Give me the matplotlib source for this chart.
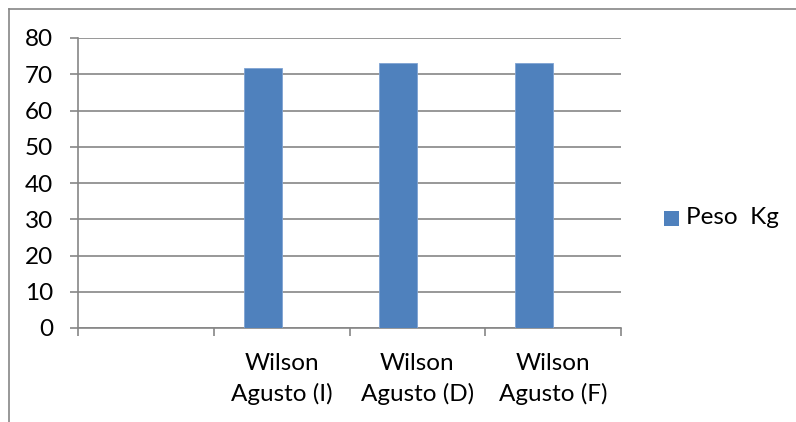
import numpy as np
import matplotlib
matplotlib.use("Agg")
import matplotlib.pyplot as plt
from matplotlib.lines import Line2D
from matplotlib.patches import Rectangle

categories = ["", "Wilson\nAgusto (I)", "Wilson\nAgusto (D)", "Wilson\nAgusto (F)"]
peso_kg = [np.nan, 71.7, 73.0, 73.0]
series_name = "Peso  Kg"
y_ticks = [0, 10, 20, 30, 40, 50, 60, 70, 80]

plt.rcParams['font.family'] = ['Lato', 'DejaVu Sans']
W, H = 796, 422
FS = 17.5
fig = plt.figure(figsize=(W/100, H/100), dpi=100)
ax = fig.add_axes([78/W, 1-328/H, (621-78)/W, (328-38)/H])

grid_c = "#868686"
bar_c = "#4F81BD"
x = np.arange(len(categories))
vals = np.array(peso_kg, dtype=float)
mask = ~np.isnan(vals)
ax.bar(x[mask], vals[mask], width=-0.28, align='edge', color=bar_c,
       edgecolor="#7FA3D3", linewidth=0.6, zorder=3, label=series_name)

ax.set_xlim(-0.5, len(categories) - 0.5)
ax.set_ylim(0, 80)
ax.set_yticks(y_ticks)
ax.yaxis.grid(True, color=grid_c, linewidth=1.2, zorder=0)
ax.set_axisbelow(True)
for s in ["top", "right"]:
    ax.spines[s].set_visible(False)
for s in ["left", "bottom"]:
    ax.spines[s].set_color(grid_c)
    ax.spines[s].set_linewidth(1.2)

ax.set_xticks(np.arange(len(categories) + 1) - 0.5)
ax.set_xticklabels([])
ax.set_xticks(x, minor=True)
ax.set_xticklabels(categories, minor=True, fontsize=FS, linespacing=1.5)
ax.tick_params(axis='x', which='major', length=6, width=1.2, color=grid_c, direction='out')
ax.tick_params(axis='x', which='minor', length=0, pad=18)
ax.tick_params(axis='y', length=6, width=1.2, color=grid_c, labelsize=FS, pad=12)

# legend
fig.patches.append(Rectangle((664/W, 1-226/H), 15/W, 15/H, transform=fig.transFigure,
                             facecolor=bar_c, edgecolor='none', figure=fig))
fig.text(686/W, 1-218/H, series_name, fontsize=FS, va='center', ha='left')

# chart-area border
fig.add_artist(Line2D([9/W, 1.0], [1-9/H, 1-9/H], color=grid_c, linewidth=1.2))
fig.add_artist(Line2D([9/W, 9/W], [1-9/H, 0.0], color=grid_c, linewidth=1.2))

fig.savefig("out.png", dpi=100)
